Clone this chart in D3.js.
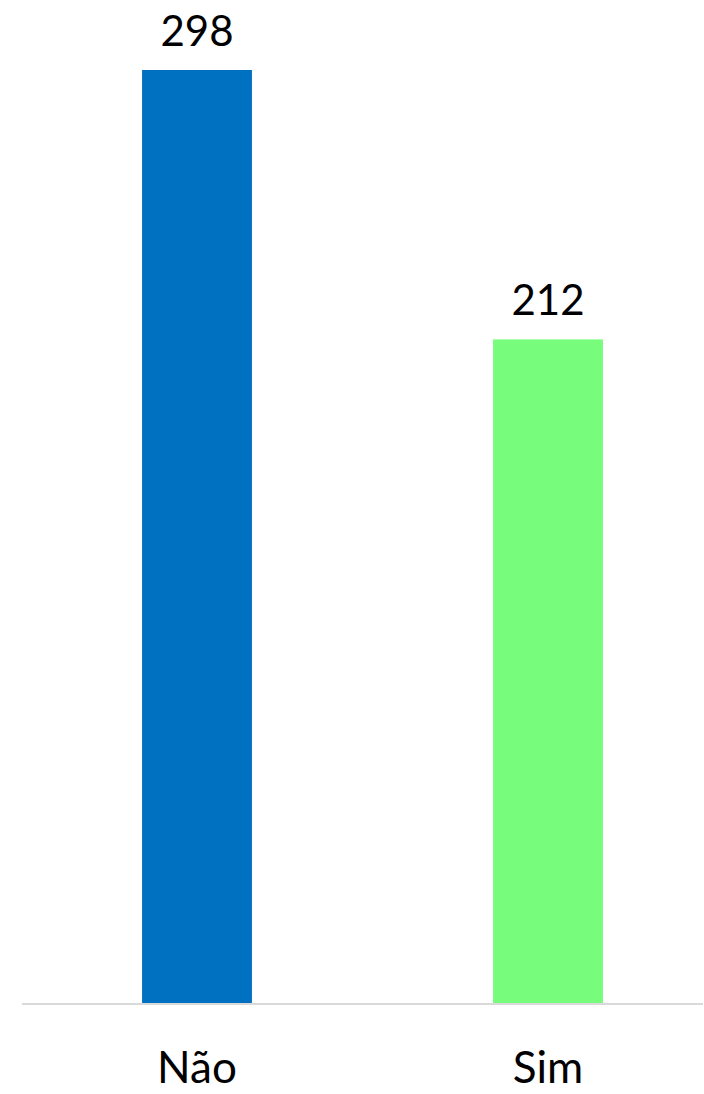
<!DOCTYPE html>
<html>
<head>
<meta charset="utf-8">
<script src="https://cdn.jsdelivr.net/npm/d3@7"></script>
<style>
  body { margin: 0; background: #fff; }
  text { font-family: Lato, "Open Sans", sans-serif; fill: #000; }
</style>
</head>
<body>
<svg class="chart"></svg>
<script>
var width = 704;
var height = 1094;

var categories = ["Não", "Sim"];
var values = [298, 212];
var colors = ["#0070C0", "#77FD7B"];

var svg = d3.select(".chart")
    .attr("width", width)
    .attr("height", height);

var x = d3.scaleBand()
    .domain(categories)
    .range([21.5, 723.5])
    .paddingInner(0.687)
    .paddingOuter(0.3435);

var y = d3.scaleLinear()
    .domain([0, 298])
    .range([1003.5, 70]);

// barras
svg.selectAll("rect.bar")
    .data(categories)
    .enter().append("rect")
    .attr("class", "bar")
    .attr("x", function(d) { return x(d); })
    .attr("y", function(d, i) { return y(values[i]); })
    .attr("width", x.bandwidth())
    .attr("height", function(d, i) { return y(0) - y(values[i]); })
    .attr("fill", function(d, i) { return colors[i]; });

// linha do eixo
svg.append("line")
    .attr("x1", 22)
    .attr("x2", 703)
    .attr("y1", y(0) + 0.5)
    .attr("y2", y(0) + 0.5)
    .attr("stroke", "#d9d9d9")
    .attr("stroke-width", 2);

// rótulos de valor
svg.selectAll("text.value")
    .data(categories)
    .enter().append("text")
    .attr("class", "value")
    .attr("x", function(d) { return x(d) + x.bandwidth() / 2; })
    .attr("y", function(d, i) { return y(values[i]) - 24; })
    .attr("text-anchor", "middle")
    .style("font-size", "42px")
    .text(function(d, i) { return values[i]; });

// categorias
svg.selectAll("text.cat")
    .data(categories)
    .enter().append("text")
    .attr("class", "cat")
    .attr("x", function(d) { return x(d) + x.bandwidth() / 2; })
    .attr("y", 1083)
    .attr("text-anchor", "middle")
    .style("font-size", "44px")
    .text(function(d) { return d; });
</script>
</body>
</html>
